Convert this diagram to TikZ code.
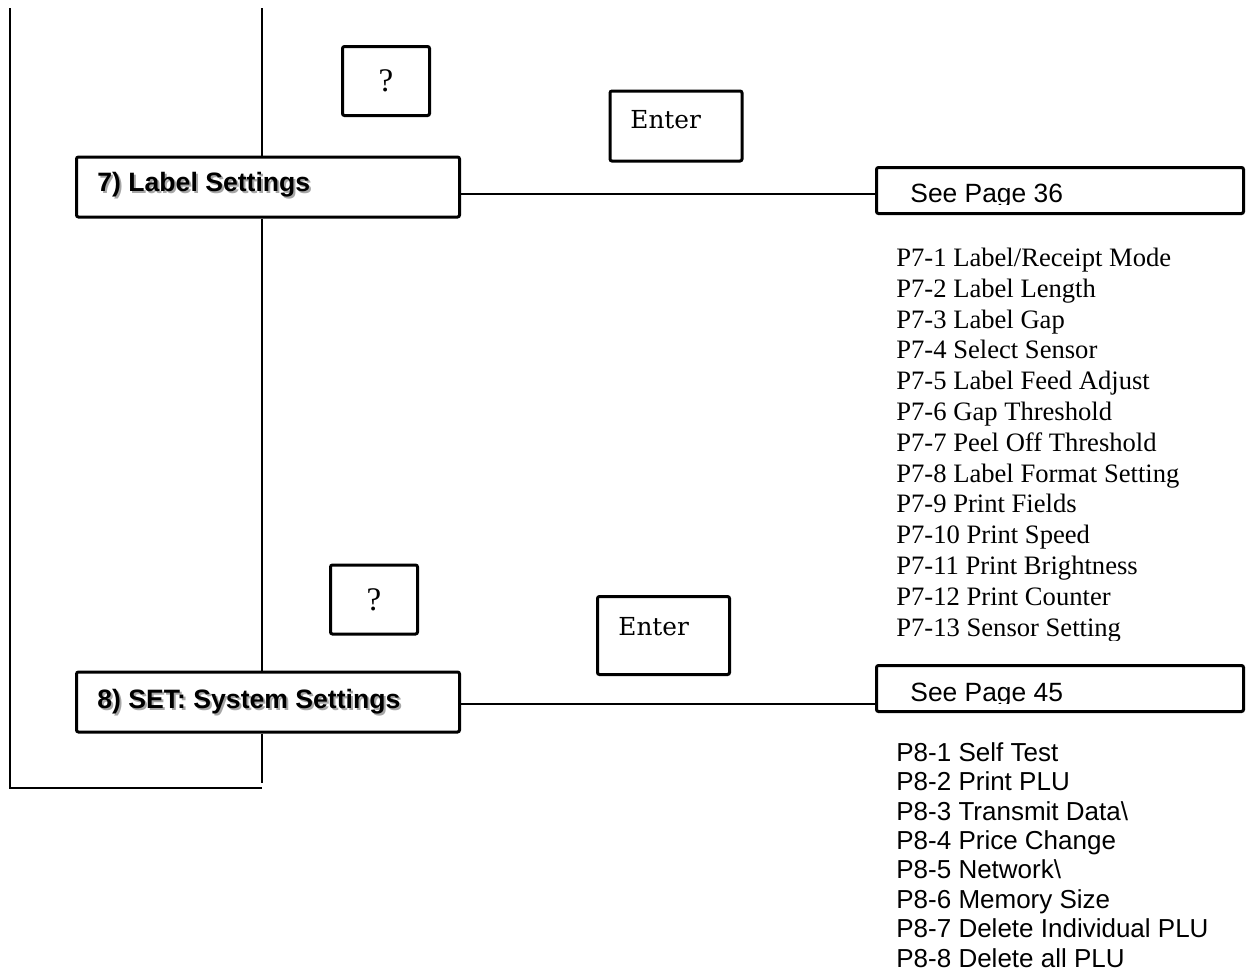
\documentclass[tikz,border=0pt]{standalone}
\usepackage{fontspec}
\setmainfont{Liberation Serif}
\setsansfont{Liberation Sans}
\newfontfamily\keyfont{DejaVu Serif}
\usepackage{xcolor}
\usepackage{tikz}
\usetikzlibrary{positioning}

% bold menu title with a soft grey drop shadow
\newcommand{\shadowed}[1]{\makebox[0pt][l]{\kern1pt\raisebox{-1pt}{\textcolor{black!35}{#1}}}#1}

\begin{document}
\begin{tikzpicture}[
  x=0.5pt, y=-0.5pt,
  keybox/.style={rectangle, draw, line width=1.5pt, rounded corners=1pt,
    fill=white, inner sep=0pt},
  qbox/.style={keybox, minimum width=43.5pt, minimum height=34.5pt,
    font=\fontsize{16.5}{18}\selectfont},
  enterbox/.style={keybox, minimum width=66pt, minimum height=35pt},
  menubox/.style={keybox, minimum width=191.5pt, minimum height=30pt},
  pagebox/.style={keybox, minimum width=183.5pt, minimum height=23pt},
  menutxt/.style={anchor=base west, inner sep=0pt,
    font=\sffamily\bfseries\fontsize{13.3}{15}\selectfont},
  entertxt/.style={anchor=base west, inner sep=0pt,
    font=\keyfont\fontsize{12.4}{14}\selectfont},
  pagetxt/.style={anchor=base west, inner sep=0pt,
    font=\sffamily\fontsize{13.2}{15}\selectfont},
  sevenlist/.style={anchor=base west, inner sep=0pt, align=left,
    font=\fontsize{13.3}{15.4}\selectfont},
  eightlist/.style={anchor=base west, inner sep=0pt, align=left,
    font=\sffamily\fontsize{13}{14.7}\selectfont},
  conn/.style={line width=0.9pt}
]
  \useasboundingbox (0,0) rectangle (1249,980);

  % frame lines on the left
  \coordinate (lefttop) at (10,8);
  \coordinate (leftbot) at (10,788);
  \coordinate (midtop) at (262,8);
  \coordinate (midbot) at (262,783);
  \coordinate (corner) at (262,788);

  % group 7
  \node[qbox] (q7) at (386,81) {?};
  \node[enterbox] (enter7) at (676,126) {};
  \node[entertxt] (enter7txt) at (630,128) {Enter};
  \node[menubox] (lbl7) at (268,187) {};
  \node[menutxt] (lbl7txt) at (97,191) {\shadowed{7) Label Settings}};
  \node[pagebox] (see7) at (1060,190.5) {};
  \begin{scope}
    \clip (877,168) rectangle (1243,204);
    \node[pagetxt] (see7txt) at (910,202) {See Page 36};
  \end{scope}
  % list is anchored on its last baseline
  \begin{scope}
    \clip (880,240) rectangle (1249,640);
    \node[sevenlist] (p7list) at (896,636) {P7-1 Label/Receipt Mode\\
      P7-2 Label Length\\
      P7-3 Label Gap\\
      P7-4 Select Sensor\\
      P7-5 Label Feed Adjust\\
      P7-6 Gap Threshold\\
      P7-7 Peel Off Threshold\\
      P7-8 Label Format Setting\\
      P7-9 Print Fields\\
      P7-10 Print Speed\\
      P7-11 Print Brightness\\
      P7-12 Print Counter\\
      P7-13 Sensor Setting};
  \end{scope}

  % group 8
  \node[qbox] (q8) at (374,599.5) {?};
  \node[enterbox, minimum height=39pt] (enter8) at (663.5,635.5) {};
  \node[entertxt] (enter8txt) at (618,635) {Enter};
  \node[menubox] (lbl8) at (268,702) {};
  \node[menutxt] (lbl8txt) at (97,708) {\shadowed{8) SET: System Settings}};
  \node[pagebox] (see8) at (1060,688.5) {};
  \begin{scope}
    \clip (877,666) rectangle (1243,703);
    \node[pagetxt] (see8txt) at (910,701) {See Page 45};
  \end{scope}
  \node[eightlist] (p8list) at (896,967) {P8-1 Self Test\\
    P8-2 Print PLU\\
    P8-3 Transmit Data\textbackslash\\
    P8-4 Price Change\\
    P8-5 Network\textbackslash\\
    P8-6 Memory Size\\
    P8-7 Delete Individual PLU\\
    P8-8 Delete all PLU};

  % connectors
  \draw[conn] (lefttop) -- (leftbot) -- (corner);
  \draw[conn] (midtop) -- (lbl7.north -| midtop);
  \draw[conn] (lbl7.south -| midtop) -- (lbl8.north -| midtop);
  \draw[conn] (lbl8.south -| midtop) -- (midbot);
  \coordinate (link7) at (461,194);
  \coordinate (link8) at (461,704);
  \draw[conn] (link7) -- (link7 -| see7.west);
  \draw[conn] (link8) -- (link8 -| see8.west);
\end{tikzpicture}
\end{document}
